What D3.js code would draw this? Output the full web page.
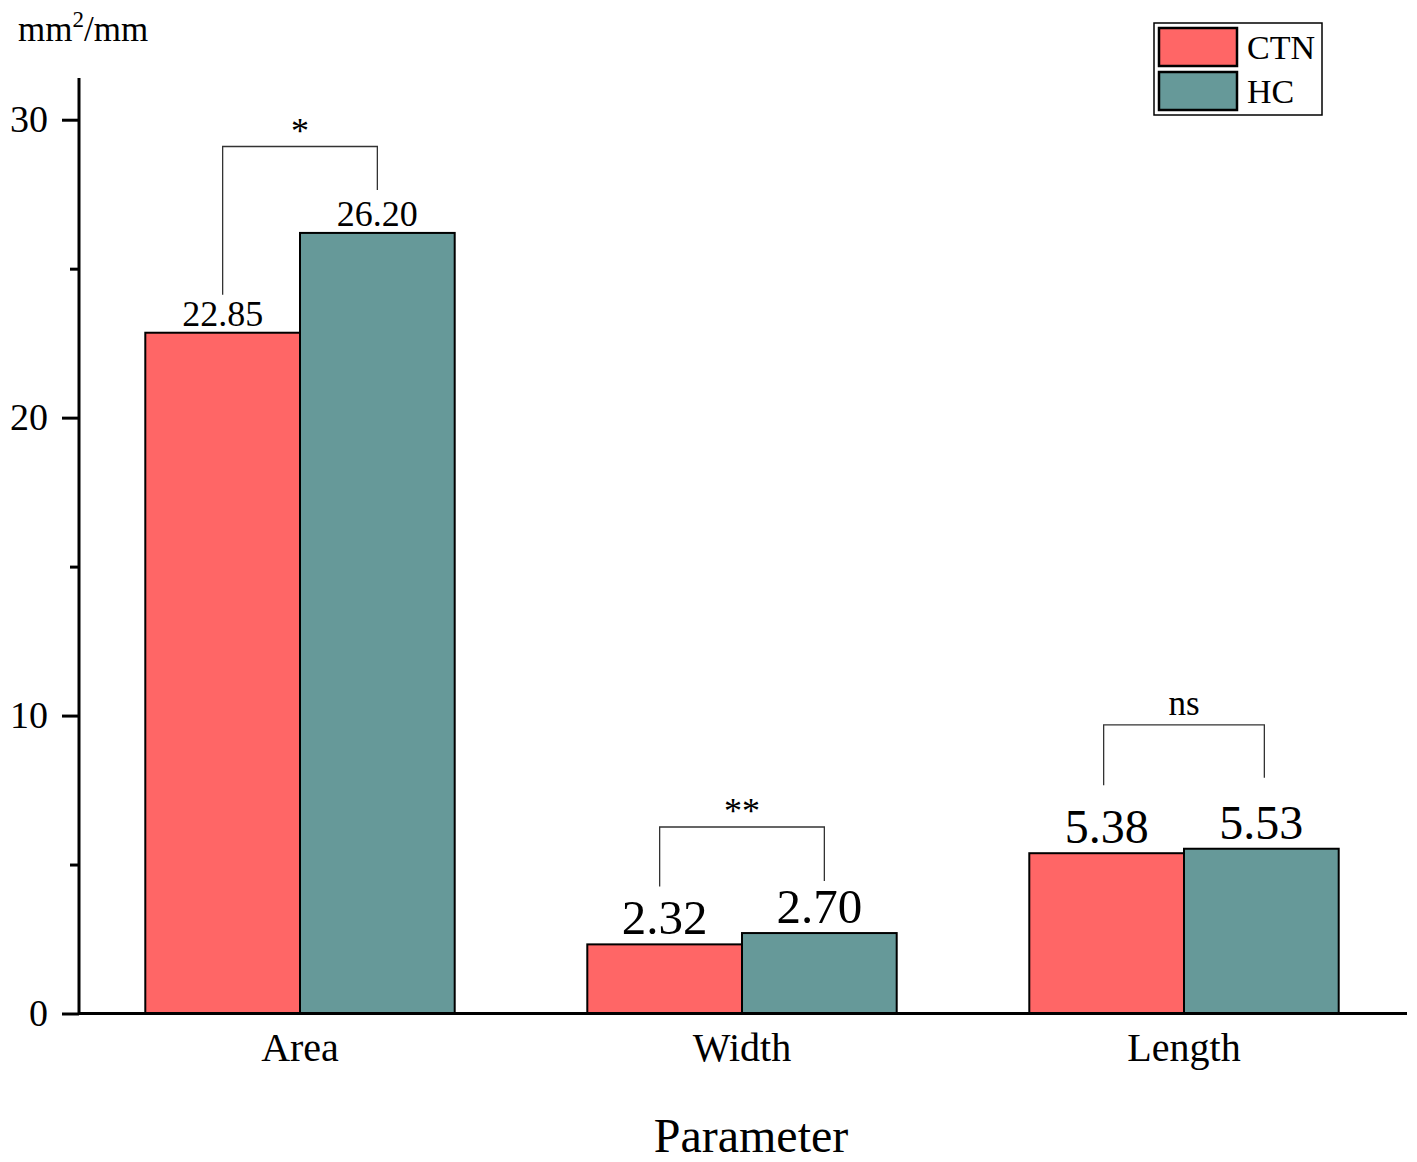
<!DOCTYPE html>
<html>
<head>
<meta charset="utf-8">
<script src="https://cdn.jsdelivr.net/npm/d3@7"></script>
<style>
  body { margin: 0; background: #fff; }
  svg, svg text { font-family: "Liberation Serif", "Times New Roman", serif; }
</style>
</head>
<body>
<div id="page"></div>
<script>
// data
const categories = ['Area', 'Width', 'Length'];
const groups = ['CTN', 'HC'];
const ctnValues = [22.85, 2.32, 5.38];
const hcValues = [26.20, 2.70, 5.53];
const yTicks = [0, 10, 20, 30];
const yMinorTicks = [5, 15, 25];
const sigLabels = ['*', '**', 'ns'];
const sigTops = [29.1, 6.26, 9.69];   // bracket height, in axis units

const width = 1417;
const height = 1162;

const colors = { CTN: '#ff6666', HC: '#669999' };
// label size and bracket leg gap per category (px)
const labelSize = [36, 49, 48];
const legGap = [[38, 43], [58, 52], [68, 71]];
const bracketSpread = [0, 5, 3];

const svg = d3.select('#page')
              .append('svg')
              .attr('width', width)
              .attr('height', height);

const x = d3.scaleBand()
            .domain(categories)
            .range([79, 1405])
            .paddingInner(0.3)
            .paddingOuter(0.15);

const xg = d3.scaleBand()
             .domain(groups)
             .range([0, x.bandwidth()]);

const y = d3.scaleLinear()
            .domain([0, 31.4])
            .range([1013.5, 78]);

const rows = categories.map((c, i) => ({ cat: c, i: i, CTN: ctnValues[i], HC: hcValues[i] }));

// bars
const cat = svg.selectAll('g.cat')
               .data(rows)
               .enter()
               .append('g')
               .attr('class', 'cat')
               .attr('transform', d => `translate(${x(d.cat)},0)`);

cat.selectAll('rect')
   .data(d => groups.map(g => ({ g: g, v: d[g], i: d.i })))
   .enter()
   .append('rect')
   .attr('x', d => xg(d.g))
   .attr('y', d => y(d.v))
   .attr('width', xg.bandwidth())
   .attr('height', d => y(0) - y(d.v))
   .attr('fill', d => colors[d.g])
   .attr('stroke', '#000')
   .attr('stroke-width', 2);

cat.selectAll('text.val')
   .data(d => groups.map(g => ({ g: g, v: d[g], i: d.i })))
   .enter()
   .append('text')
   .attr('class', 'val')
   .attr('x', d => xg(d.g) + xg.bandwidth() / 2)
   .attr('y', d => y(d.v) - (d.i === 0 ? 7 : 10))
   .attr('text-anchor', 'middle')
   .style('font-size', d => labelSize[d.i] + 'px')
   .text(d => d.v.toFixed(2));

// significance brackets
rows.forEach(d => {
    const x1 = x(d.cat) + xg('CTN') + xg.bandwidth() / 2 - bracketSpread[d.i];
    const x2 = x(d.cat) + xg('HC') + xg.bandwidth() / 2 + bracketSpread[d.i];
    const top = y(sigTops[d.i]);
    const b1 = y(d.CTN) - legGap[d.i][0];
    const b2 = y(d.HC) - legGap[d.i][1];
    svg.append('path')
       .attr('d', `M${x1},${b1}V${top}H${x2}V${b2}`)
       .attr('fill', 'none')
       .attr('stroke', '#333')
       .attr('stroke-width', 1.3);
    const isStar = sigLabels[d.i] !== 'ns';
    svg.append('text')
       .attr('x', (x1 + x2) / 2)
       .attr('y', top - (isStar ? 4 : 10))
       .attr('text-anchor', 'middle')
       .style('font-size', isStar ? '36px' : '35px')
       .text(sigLabels[d.i]);
});

// axes
const yAxis = svg.append('g')
                 .attr('transform', 'translate(79,0)')
                 .call(d3.axisLeft(y).tickValues(yTicks).tickSize(17).tickPadding(14).tickFormat(d3.format('d')));
yAxis.select('.domain').attr('d', `M0,${y(0)}V78`);

svg.append('g')
   .attr('transform', 'translate(79,0)')
   .call(d3.axisLeft(y).tickValues(yMinorTicks).tickSize(9).tickFormat(''))
   .select('.domain').remove();

const xAxis = svg.append('g')
                 .attr('transform', `translate(0,${y(0)})`)
                 .call(d3.axisBottom(x).tickSize(0).tickPadding(19));
xAxis.select('.domain').attr('d', `M79,0H1407`);

svg.selectAll('.domain, .tick line')
   .attr('stroke', '#000')
   .attr('stroke-width', 3);

svg.selectAll('g').attr('font-family', null).attr('font-size', null);
yAxis.selectAll('text').style('font-size', '38px').attr('fill', '#000');
xAxis.selectAll('text').style('font-size', '40px').attr('fill', '#000');

// axis titles
svg.append('text')
   .attr('x', 751)
   .attr('y', 1152)
   .attr('text-anchor', 'middle')
   .style('font-size', '48px')
   .text('Parameter');

const unit = svg.append('text')
                .attr('x', 18)
                .attr('y', 41)
                .style('font-size', '35px');
unit.append('tspan').text('mm');
unit.append('tspan').attr('dy', -14).style('font-size', '23px').text('2');
unit.append('tspan').attr('dy', 14).text('/mm');

// legend
const legend = svg.append('g').attr('transform', 'translate(1154,23)');
legend.append('rect')
      .attr('width', 168)
      .attr('height', 92)
      .attr('fill', '#fff')
      .attr('stroke', '#000')
      .attr('stroke-width', 1.5);

const lg = legend.selectAll('g.item')
                 .data(groups)
                 .enter()
                 .append('g')
                 .attr('class', 'item')
                 .attr('transform', (d, i) => `translate(5,${5 + i * 44})`);

lg.append('rect')
  .attr('width', 78)
  .attr('height', 38)
  .attr('fill', d => colors[d])
  .attr('stroke', '#000')
  .attr('stroke-width', 2.5);

lg.append('text')
  .attr('x', 88)
  .attr('y', 31)
  .style('font-size', '34px')
  .text(d => d);
</script>
</body>
</html>
